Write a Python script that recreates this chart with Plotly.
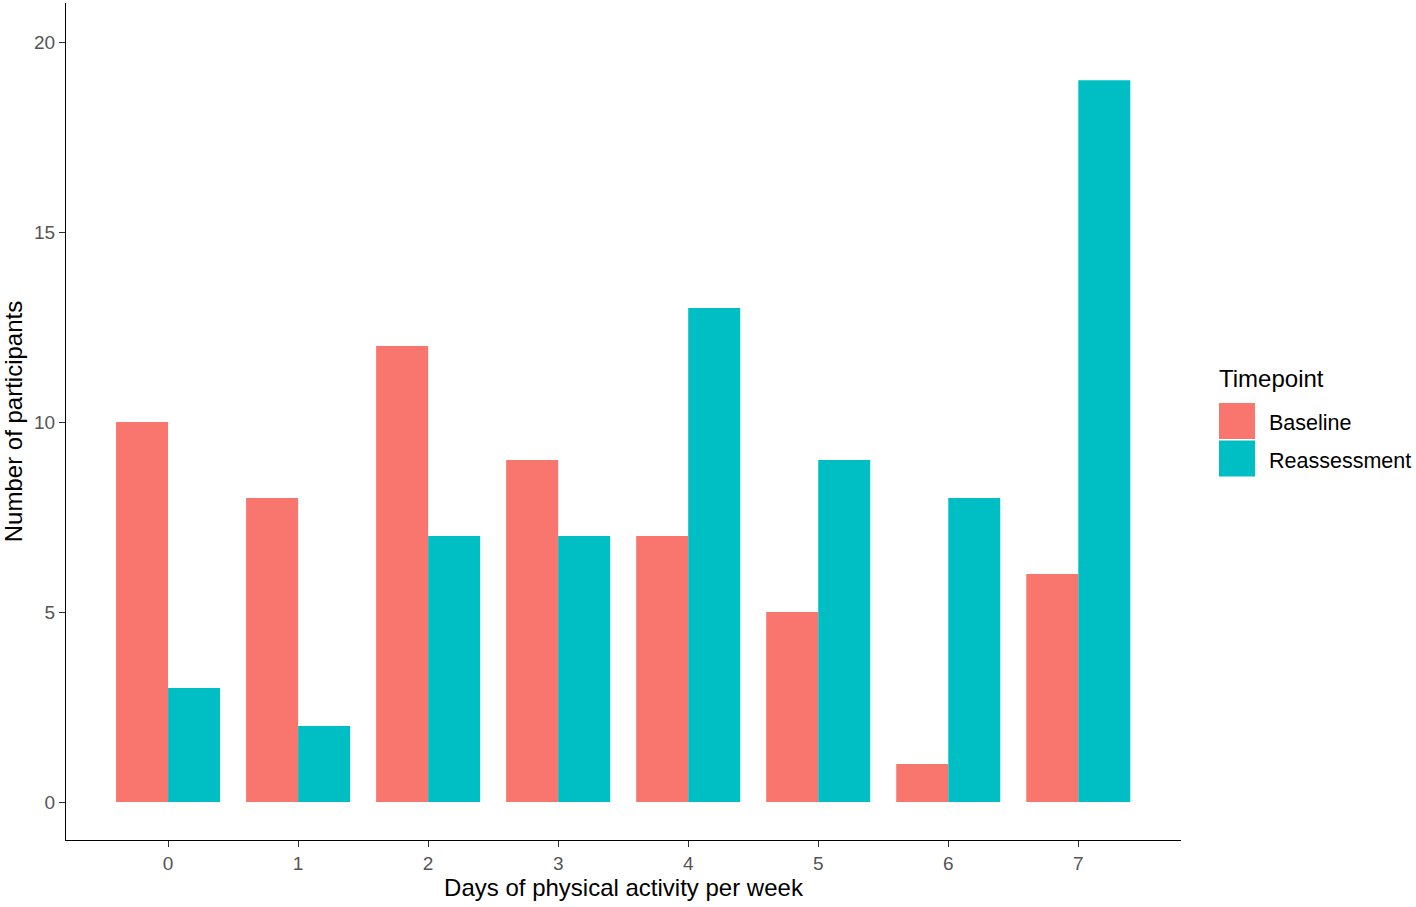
import plotly.graph_objects as go

days = ["0", "1", "2", "3", "4", "5", "6", "7"]
baseline = [10, 8, 12, 9, 7, 5, 1, 6]
reassessment = [3, 2, 7, 7, 13, 9, 8, 19]
series_names = ["Baseline", "Reassessment"]
series_colors = ["#F8766D", "#00BFC4"]

font = "Liberation Sans, Arial, sans-serif"

fig = go.Figure()
for name, vals, col in zip(series_names, [baseline, reassessment], series_colors):
    fig.add_trace(go.Bar(x=days, y=vals, name=name, marker_color=col,
                         marker_line_width=0, showlegend=False))

fig.update_layout(
    barmode="group", bargap=0.2, bargroupgap=0,
    width=1416, height=907,
    margin=dict(l=66, r=235, t=3, b=67),
    plot_bgcolor="white", paper_bgcolor="white",
    font=dict(family=font, color="#4D4D4D"),
)
fig.update_xaxes(
    range=[-0.785, 7.79], showline=True, linecolor="black", linewidth=1.3,
    ticks="outside", ticklen=6, tickcolor="#333333", tickwidth=1.3,
    tickfont=dict(size=19, color="#555555"), showgrid=False,
    title=dict(text="Days of physical activity per week", standoff=2,
               font=dict(size=24, color="black")),
)
fig.update_yaxes(
    range=[-1.0, 21.03], showline=True, linecolor="black", linewidth=1.3,
    ticks="outside", ticklen=6, tickcolor="#333333", tickwidth=1.3,
    tickvals=[0, 5, 10, 15, 20], tickfont=dict(size=19, color="#555555"),
    showgrid=False, zeroline=False,
    title=dict(text="Number of participants", standoff=4,
               font=dict(size=24, color="black")),
)

# legend drawn by hand so the keys are as large as in the reference
pw, ph = 1115, 837
def px(x):
    return (x - 66) / pw
def py(y):
    return (840 - y) / ph

fig.add_annotation(x=px(1217), y=py(379), xref="paper", yref="paper",
                   text="Timepoint", showarrow=False, xanchor="left", yanchor="middle",
                   font=dict(size=24, color="black", family=font))
for i, (name, col) in enumerate(zip(series_names, series_colors)):
    top = 403 + i * 37.5
    fig.add_shape(type="rect", xref="paper", yref="paper",
                  x0=px(1219), x1=px(1255), y0=py(top + 36), y1=py(top),
                  fillcolor=col, line_width=0)
    fig.add_annotation(x=px(1267), y=py(top + 20), xref="paper", yref="paper",
                       text=name, showarrow=False, xanchor="left", yanchor="middle",
                       font=dict(size=21.5, color="black", family=font))

fig.write_html("out.html", config={"displayModeBar": False},
               post_script="document.body.style.margin='0';")
